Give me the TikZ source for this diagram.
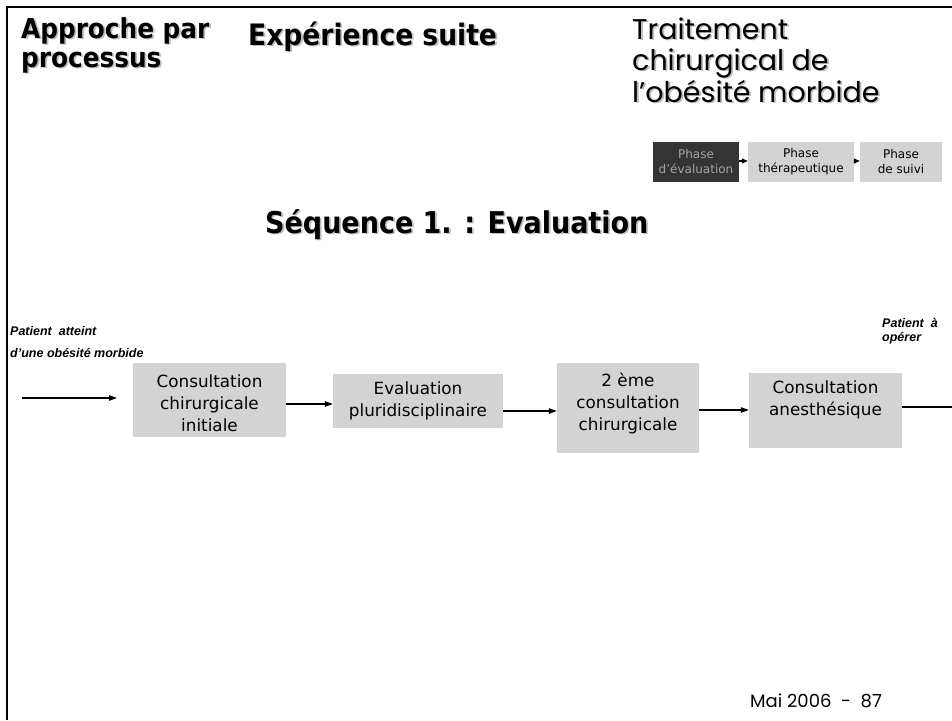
\documentclass[tikz,border=0pt]{standalone}
\usepackage{fontspec}
\setmainfont{DejaVu Sans}
\newfontfamily\headfont{DejaVu Sans Condensed}
\newfontfamily\handfont{Poppins}
\newfontfamily\labelfont{Liberation Sans}
\usetikzlibrary{arrows.meta,calc}

\definecolor{boxgray}{RGB}{211,211,211}
\definecolor{darkbox}{RGB}{52,52,52}
\definecolor{darktext}{RGB}{165,165,165}
\definecolor{shade}{RGB}{190,190,190}

% title line with a soft drop shadow: name, base point, style, text
\newcommand\shadowline[4]{%
  \node[#3, text=shade, anchor=base west] (#1s) at ($(#2)+(1.8,1.8)$) {#4};
  \node[#3, anchor=base west] (#1) at (#2) {#4};}

\begin{document}
\begin{tikzpicture}[x=1pt,y=-1pt,
  headbold/.style={inner sep=0, font=\headfont\bfseries\fontsize{27.5}{30}\selectfont},
  headwide/.style={inner sep=0, font=\headfont\bfseries\fontsize{29.5}{30}\selectfont},
  headseq/.style={inner sep=0, font=\headfont\bfseries\fontsize{30}{32}\selectfont},
  headhand/.style={inner sep=0, font=\handfont\fontsize{28.5}{30}\selectfont},
  procbox/.style={fill=boxgray, draw=none, inner sep=0},
  proctext/.style={align=center, inner sep=0, font=\fontsize{16.8}{22}\selectfont},
  phasebox/.style={fill=boxgray, draw=none, inner sep=0, minimum height=40,
    align=center, font=\fontsize{12}{15}\selectfont},
  note/.style={inner sep=0, anchor=base west,
    font=\labelfont\bfseries\itshape\fontsize{12.5}{14}\selectfont},
  flow/.style={line width=1.1pt, -{Triangle[length=8pt,width=5.5pt]}},
  phaseflow/.style={line width=1.1pt, -{Triangle[length=6pt,width=5pt]}}]

\useasboundingbox (0,0) rectangle (952,720);

% frame: top and left rules
\coordinate (frameTL) at (7,7);
\coordinate (frameTR) at (952,7);
\coordinate (frameBL) at (7,720);
\draw[line width=2.5pt] (frameTR) -- (frameTL) -- (frameBL);

% headings
\shadowline{apA}{21,38}{headbold}{Approche par}
\shadowline{apB}{21,67}{headbold}{processus}
\shadowline{exp}{248,45}{headwide}{Expérience suite}
\shadowline{trA}{632,39}{headhand}{Traitement}
\shadowline{trB}{632,70}{headhand}{chirurgical de}
\shadowline{trC}{632,102}{headhand}{l’obésité morbide}
\shadowline{seq}{265,233}{headseq}{Séquence 1. : Evaluation}

% phase strip
\node[phasebox, fill=darkbox, text=darktext, minimum width=86] (ph1) at (696,162) {Phase\\d’évaluation};
\node[phasebox, minimum width=106] (ph2) at (801,162) {Phase\\thérapeutique};
\node[phasebox, minimum width=82] (ph3) at (901,162) {Phase\\de suivi};
\draw[phaseflow] (ph1.east |- 0,161) -- (ph2.west |- 0,161);
\draw[phaseflow] (ph2.east |- 0,161) -- (ph3.west |- 0,161);

% process boxes
\node[procbox, minimum width=153, minimum height=74] (boxA) at (209.5,400) {};
\node[proctext] (txtA) at (209.5,403) {Consultation\\chirurgicale\\initiale};
\node[procbox, minimum width=170, minimum height=54] (boxB) at (418,401) {};
\node[proctext] (txtB) at (418,401) {Evaluation\\pluridisciplinaire};
\node[procbox, minimum width=142, minimum height=90] (boxC) at (628,408) {};
\node[proctext] (txtC) at (628,404) {2 ème\\consultation\\chirurgicale};
\node[procbox, minimum width=153, minimum height=75] (boxD) at (825.5,410.5) {};
\node[proctext] (txtD) at (825.5,400) {Consultation\\anesthésique};

% side notes
\node[note] (inA) at (10,335) {Patient\ \ atteint};
\node[note] (inB) at (10,357) {d’une obésité morbide};
\node[note] (outA) at (882,327) {Patient\ \ à};
\node[note] (outB) at (882,341) {opérer};

% flow connectors
\coordinate (entry) at (22,398);
\coordinate (entryTip) at (117,398);
\coordinate (exit) at (952,407);
\draw[flow] (entry) -- (entryTip);
\draw[flow] (boxA.east |- 0,404) -- (boxB.west |- 0,404);
\draw[flow] (boxB.east |- 0,411) -- (boxC.west |- 0,411);
\draw[flow] (boxC.east |- 0,410) -- (boxD.west |- 0,410);
\draw[line width=1.1pt] (boxD.east |- exit) -- (exit);

% footer
\node[inner sep=0, anchor=base west, font=\handfont\fontsize{18}{20}\selectfont] (foot) at (750,707) {Mai 2006\ \ -\ \ 87};
\end{tikzpicture}
\end{document}
